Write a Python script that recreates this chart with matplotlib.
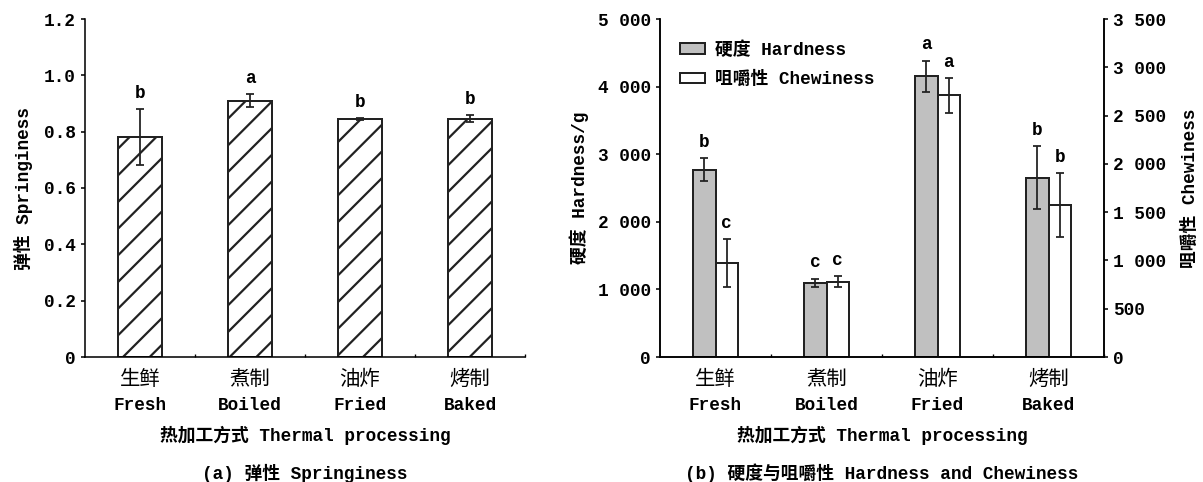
"""
Springiness, hardness and chewiness of samples under different thermal processing.
"""

import matplotlib
matplotlib.use("Agg")
import matplotlib.pyplot as plt
from matplotlib.patches import Patch

methods_cn = ["生鲜", "煮制", "油炸", "烤制"]
methods_en = ["Fresh", "Boiled", "Fried", "Baked"]

springiness = [0.78, 0.91, 0.845, 0.846]
springiness_err = [0.10, 0.023, 0.003, 0.012]
springiness_sig = ["b", "a", "b", "b"]

hardness = [2770, 1100, 4155, 2655]
hardness_err = [170, 60, 230, 460]
hardness_sig = ["b", "c", "a", "b"]

chewiness = [975, 780, 2708, 1576]
chewiness_err = [245, 55, 180, 330]
chewiness_sig = ["c", "c", "a", "b"]

spring_ticks = [0, 0.2, 0.4, 0.6, 0.8, 1.0, 1.2]
spring_labels = ["0", "0.2", "0.4", "0.6", "0.8", "1.0", "1.2"]
hard_ticks = [0, 1000, 2000, 3000, 4000, 5000]
hard_labels = ["0", "1 000", "2 000", "3 000", "4 000", "5 000"]
chew_ticks = [0, 500, 1000, 1500, 2000, 2500, 3000, 3500]
chew_labels = ["0", "500", "1 000", "1 500", "2 000", "2 500", "3 000", "3 500"]

FS = 8
FS_CN = 9.2
plt.rcParams["font.family"] = ["Liberation Mono", "Noto Sans CJK SC"]
plt.rcParams["font.size"] = FS
plt.rcParams["font.weight"] = "bold"
plt.rcParams["axes.labelweight"] = "bold"
plt.rcParams["hatch.linewidth"] = 1.0
plt.rcParams["axes.linewidth"] = 0.7

EDGE = "#222222"


def style_axis(ax):
    ax.spines["top"].set_visible(False)
    ax.set_xlim(-0.5, 3.5)
    ax.set_xticks(range(4))
    ax.set_xticklabels([])
    ax.tick_params(axis="x", length=0)
    ax.set_xticks([0.5, 1.5, 2.5, 3.5], minor=True)
    ax.tick_params(axis="x", which="minor", direction="in", length=1.4, width=0.6)
    ax.tick_params(axis="y", direction="out", length=2, width=0.7, pad=2)
    # two-line category labels: Chinese above English
    for i in range(4):
        ax.annotate(methods_cn[i], (i, 0), xycoords=("data", "axes fraction"),
                    xytext=(0, -9.9), textcoords="offset points",
                    ha="center", va="center", fontsize=FS_CN, fontweight="normal")
        ax.annotate(methods_en[i], (i, 0), xycoords=("data", "axes fraction"),
                    xytext=(0, -21.6), textcoords="offset points",
                    ha="center", va="center", fontsize=FS)
    ax.annotate("热加工方式 Thermal processing", (0.5, 0), xycoords="axes fraction",
                xytext=(0, -35.1), textcoords="offset points",
                ha="center", va="center", fontsize=FS)


def letters(ax, xs, tops, sig):
    for x, t, s in zip(xs, tops, sig):
        ax.annotate(s, (x, t), xytext=(0, 3.2), textcoords="offset points",
                    ha="center", va="bottom", fontsize=FS)


fig = plt.figure(figsize=(1203 / 160, 482 / 160), dpi=160)

# (a) springiness
ax1 = fig.add_axes([85 / 1203, 125 / 482, 440 / 1203, 338 / 482])
x = list(range(4))
ax1.bar(x, springiness, width=0.4, color="white", edgecolor=EDGE,
        linewidth=0.9, hatch="//", zorder=2)
ax1.errorbar(x, springiness, yerr=springiness_err, fmt="none", ecolor=EDGE,
             elinewidth=0.8, capsize=1.6, capthick=0.8, zorder=3)
letters(ax1, x, [v + e for v, e in zip(springiness, springiness_err)], springiness_sig)
ax1.spines["right"].set_visible(False)
ax1.set_ylim(0, 1.2)
ax1.set_yticks(spring_ticks)
ax1.set_yticklabels(spring_labels)
style_axis(ax1)
ax1.set_ylabel("弹性 Springiness", labelpad=5)

# (b) hardness and chewiness
ax2 = fig.add_axes([660 / 1203, 125 / 482, 444 / 1203, 338 / 482])
ax3 = ax2.twinx()
xh = [i - 0.1 for i in x]
xc = [i + 0.1 for i in x]
ax2.bar(xh, hardness, width=0.2, color="#c0c0c0", edgecolor=EDGE,
        linewidth=0.9, zorder=2)
ax2.errorbar(xh, hardness, yerr=hardness_err, fmt="none", ecolor=EDGE,
             elinewidth=0.8, capsize=1.6, capthick=0.8, zorder=3)
ax3.bar(xc, chewiness, width=0.2, color="white", edgecolor=EDGE,
        linewidth=0.9, zorder=2)
ax3.errorbar(xc, chewiness, yerr=chewiness_err, fmt="none", ecolor=EDGE,
             elinewidth=0.8, capsize=1.6, capthick=0.8, zorder=3)
letters(ax2, xh, [v + e for v, e in zip(hardness, hardness_err)], hardness_sig)
letters(ax3, xc, [v + e for v, e in zip(chewiness, chewiness_err)], chewiness_sig)

ax2.set_ylim(0, 5000)
ax2.set_yticks(hard_ticks)
ax2.set_yticklabels(hard_labels)
style_axis(ax2)
ax2.set_ylabel("硬度 Hardness/g", labelpad=4)

ax3.set_ylim(0, 3500)
ax3.set_yticks(chew_ticks)
ax3.set_yticklabels(chew_labels)
ax3.spines["top"].set_visible(False)
ax3.tick_params(axis="y", direction="out", length=2, width=0.7, pad=2)
ax3.set_ylabel("咀嚼性 Chewiness", labelpad=7)

handles = [Patch(facecolor="#c0c0c0", edgecolor=EDGE, linewidth=0.9),
           Patch(facecolor="white", edgecolor=EDGE, linewidth=0.9)]
ax3.legend(handles, ["硬度 Hardness", "咀嚼性 Chewiness"], loc="upper left",
           bbox_to_anchor=(0.045, 0.935), frameon=False, fontsize=FS,
           handlelength=1.4, handleheight=0.56, handletextpad=0.55,
           labelspacing=0.7, borderaxespad=0, borderpad=0)

fig.text((85 + 220) / 1203, 9 / 482, "(a) 弹性 Springiness", ha="center", va="center")
fig.text((660 + 222) / 1203, 9 / 482, "(b) 硬度与咀嚼性 Hardness and Chewiness",
         ha="center", va="center")

fig.savefig("out.png", dpi=160)
